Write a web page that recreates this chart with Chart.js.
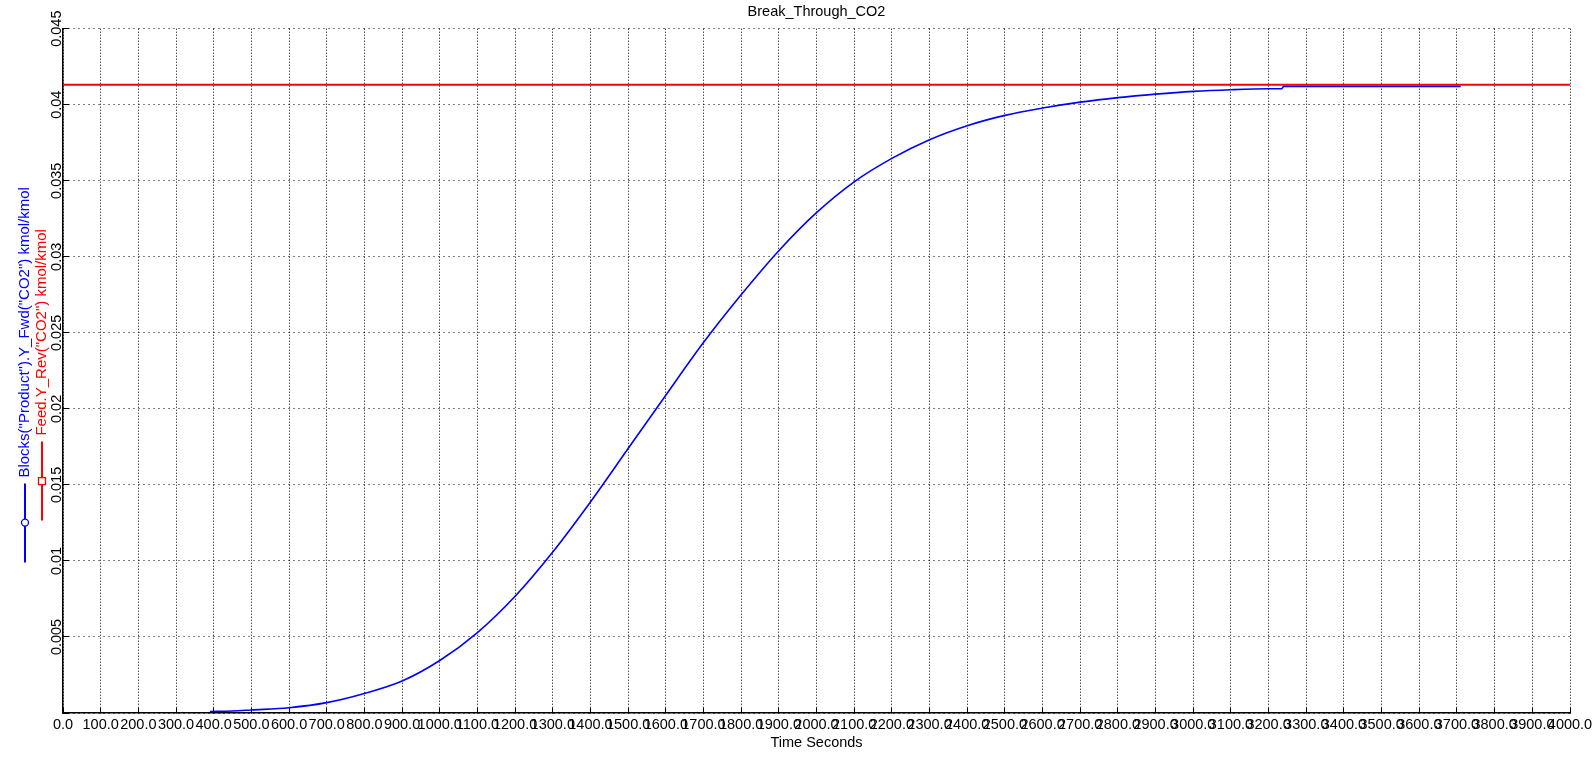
<!DOCTYPE html>
<html>
<head>
<meta charset="utf-8">
<title>Break_Through_CO2</title>
<script src="https://cdn.jsdelivr.net/npm/chart.js"></script>
<style>
  html, body { margin: 0; padding: 0; background: #fff; }
</style>
</head>
<body>
<canvas id="myChartBreak" width="1594" height="760"></canvas>
<script>
var chartTitle = 'Break_Through_CO2';
var xTitle = 'Time Seconds';
var productLabel = 'Blocks("Product").Y_Fwd("CO2") kmol/kmol';
var feedLabel = 'Feed.Y_Rev("CO2") kmol/kmol';

// Blocks("Product") - đường cong xanh
var productTime = [390, 450, 500, 600, 700, 800, 900, 1000, 1100, 1200, 1300, 1400, 1500, 1600, 1700, 1800, 1900, 2000, 2100, 2200, 2300, 2400, 2500, 2600, 2700, 2800, 2900, 3000, 3100, 3200, 3235, 3240, 3400, 3550, 3710];
var productCO2 = [0.0001, 0.00013, 0.0002, 0.00035, 0.00068, 0.00128, 0.0021, 0.00345, 0.00529, 0.00768, 0.01059, 0.01388, 0.01739, 0.0209, 0.02436, 0.0275, 0.0304, 0.0329, 0.03493, 0.03647, 0.0377, 0.03862, 0.0393, 0.03978, 0.04017, 0.04047, 0.0407, 0.04088, 0.04099, 0.04105, 0.04106, 0.04121, 0.04121, 0.04121, 0.04121];

// Feed - đường đỏ nằm ngang
var feedTime = [0, 4000];
var feedCO2 = [0.04132, 0.04132];

var xMin = 0, xMax = 4000, xStep = 100;
var yMin = 0, yMax = 0.045, yStep = 0.005;

function toPoints(xs, ys) {
    return xs.map(function(x, i) { return { x: x, y: ys[i] }; });
}

var fontFamily = '"Liberation Sans", Arial, sans-serif';

// legend dọc bên trái, chữ xoay 90 độ
var sideLegend = {
    id: 'sideLegend',
    afterDraw: function(chart) {
        var ctx = chart.ctx;
        var area = chart.chartArea;
        var midY = (area.top + area.bottom) / 2 + 4;
        ctx.save();
        ctx.font = '15px ' + fontFamily;
        chart.data.datasets.forEach(function(ds, i) {
            var x = area.left - 38 + i * 17;
            var textW = ctx.measureText(ds.label).width;
            var total = 79 + 6 + textW;
            ctx.save();
            ctx.translate(x, midY + total / 2);
            ctx.rotate(-Math.PI / 2);
            ctx.strokeStyle = ds.borderColor;
            ctx.lineWidth = 2;
            ctx.beginPath();
            ctx.moveTo(0, 0);
            ctx.lineTo(79, 0);
            ctx.stroke();
            ctx.fillStyle = '#fff';
            ctx.lineWidth = 1.3;
            if (ds.legendMarker == 'circle') {
                ctx.beginPath();
                ctx.arc(40, 0, 3.5, 0, Math.PI * 2);
                ctx.fill();
                ctx.stroke();
            } else {
                ctx.fillRect(36, -3.5, 7, 7);
                ctx.strokeRect(36, -3.5, 7, 7);
            }
            ctx.fillStyle = ds.borderColor;
            ctx.textAlign = 'left';
            ctx.textBaseline = 'middle';
            ctx.fillText(ds.label, 85, 0);
            ctx.restore();
        });
        ctx.restore();
    }
};

var ctxBreak = document.getElementById('myChartBreak');
var myChartBreak = new Chart(ctxBreak, {
    type: 'line',
    data: {
        datasets: [{
            label: productLabel,
            data: toPoints(productTime, productCO2),
            borderColor: '#0000ff',
            borderWidth: 1.6,
            pointRadius: 0,
            cubicInterpolationMode: 'monotone',
            legendMarker: 'circle',
            order: 1
        }, {
            label: feedLabel,
            data: toPoints(feedTime, feedCO2),
            borderColor: '#ff0000',
            borderWidth: 2,
            pointRadius: 0,
            legendMarker: 'rect',
            order: 0
        }]
    },
    options: {
        responsive: false,
        animation: false,
        devicePixelRatio: 1,
        layout: { padding: 0 },
        plugins: {
            legend: { display: false },
            tooltip: { enabled: false },
            title: {
                display: true,
                text: chartTitle,
                fullSize: false,
                color: '#000',
                font: { family: fontFamily, size: 14.5, weight: 'normal' },
                padding: { top: 3.5, bottom: 7.8 }
            }
        },
        scales: {
            x: {
                type: 'linear',
                min: xMin,
                max: xMax,
                afterFit: function(scale) {
                    scale.paddingRight = 24;
                    scale.height = 47;
                },
                ticks: {
                    stepSize: xStep,
                    autoSkip: false,
                    maxRotation: 0,
                    minRotation: 0,
                    padding: 8,
                    color: '#000',
                    font: { family: fontFamily, size: 14.5 },
                    callback: function(v) { return Number(v).toFixed(1); }
                },
                grid: { color: '#000', lineWidth: 1, tickLength: -5, tickColor: '#000' },
                border: { color: '#000', width: 1.5, dash: [1, 2] },
                title: {
                    display: true,
                    text: xTitle,
                    color: '#000',
                    font: { family: fontFamily, size: 14.5 },
                    padding: { top: 3, bottom: 8.3 }
                }
            },
            y: {
                type: 'linear',
                min: yMin,
                max: yMax,
                afterFit: function(scale) { scale.width = 63; },
                ticks: {
                    stepSize: yStep,
                    minRotation: 90,
                    maxRotation: 90,
                    crossAlign: 'center',
                    padding: -6,
                    color: '#000',
                    font: { family: fontFamily, size: 14.5 },
                    callback: function(v) {
                        if (Math.abs(v) < 1e-9) return '';
                        return String(+Number(v).toFixed(3));
                    }
                },
                grid: { color: '#000', lineWidth: 1, tickLength: -6, tickColor: '#000' },
                border: { color: '#000', width: 1.5, dash: [1, 4] }
            }
        }
    },
    plugins: [sideLegend]
});
</script>
</body>
</html>
